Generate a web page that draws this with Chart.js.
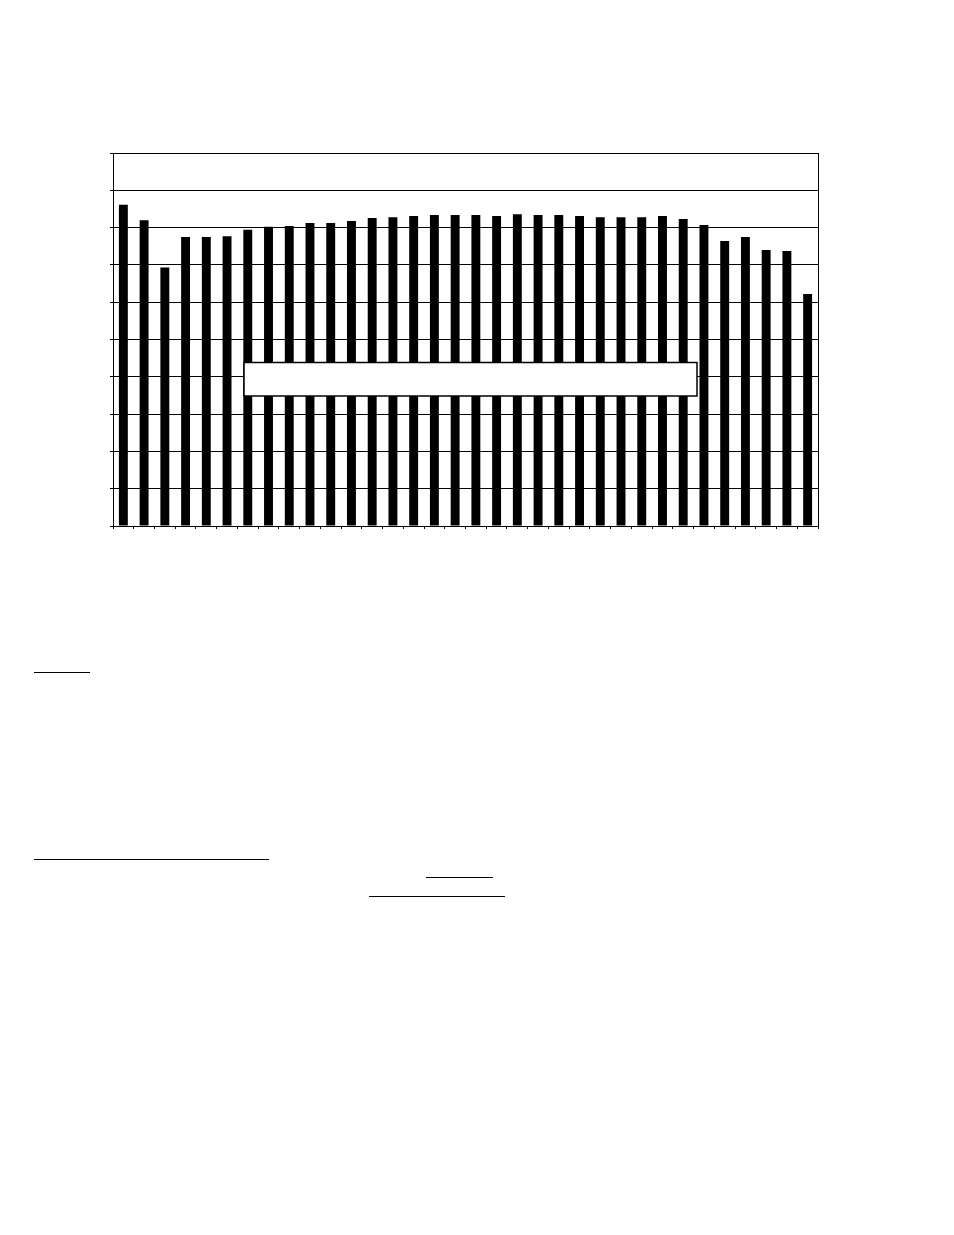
<!DOCTYPE html>
<html>
<head>
<meta charset="utf-8">
<script src="https://cdn.jsdelivr.net/npm/chart.js@4/dist/chart.umd.min.js"></script>
<style>
  html, body { margin: 0; padding: 0; background: #fff; width: 954px; height: 1235px; overflow: hidden; }
  #wrap { position: absolute; left: 0; top: 0; width: 954px; height: 560px; }
  .ul { position: absolute; height: 1px; background: #000; }
</style>
</head>
<body>
<div id="wrap"><canvas id="c"></canvas></div>
<div class="ul" style="left:34px;top:672px;width:56px;"></div>
<div class="ul" style="left:34px;top:859px;width:235px;"></div>
<div class="ul" style="left:426px;top:877px;width:67px;"></div>
<div class="ul" style="left:369px;top:896px;width:136px;"></div>
<script>
const categories = ["1","2","3","4","5","6","7","8","9","10","11","12","13","14","15","16","17","18","19","20","21","22","23","24","25","26","27","28","29","30","31","32","33","34"];
const values = [86.1, 82.0, 69.3, 77.5, 77.5, 77.7, 79.4, 80.2, 80.4, 81.2, 81.2, 81.8, 82.6, 82.8, 83.1, 83.4, 83.4, 83.4, 83.1, 83.6, 83.4, 83.4, 83.1, 82.8, 82.8, 82.8, 83.1, 82.3, 80.7, 76.4, 77.5, 74.0, 73.7, 62.2];
const yTicks = { min: 0, max: 100, step: 10 };

const framePlugin = {
  id: 'frame',
  afterDraw(chart) {
    const ctx = chart.ctx, ca = chart.chartArea;
    ctx.save();
    ctx.strokeStyle = '#000';
    ctx.lineWidth = 1;
    ctx.beginPath();
    ctx.moveTo(Math.round(ca.right) + 0.5, ca.top);
    ctx.lineTo(Math.round(ca.right) + 0.5, ca.bottom);
    ctx.stroke();
    // empty text box
    const x1 = ca.left + 131, x2 = ca.left + 584;
    const y1 = ca.top + 209.5, y2 = ca.top + 243;
    ctx.fillStyle = '#fff';
    ctx.fillRect(x1, y1, x2 - x1, y2 - y1);
    ctx.lineWidth = 1.5;
    ctx.strokeRect(x1, y1, x2 - x1, y2 - y1);
    ctx.restore();
  }
};

new Chart(document.getElementById('c'), {
  type: 'bar',
  data: {
    labels: categories,
    datasets: [{
      data: values,
      backgroundColor: '#000',
      borderWidth: 0,
      barPercentage: 0.43,
      categoryPercentage: 1.0
    }]
  },
  options: {
    responsive: true,
    maintainAspectRatio: false,
    animation: false,
    devicePixelRatio: 1,
    layout: { padding: { left: 113, top: 153, right: 136, bottom: 34 } },
    plugins: { legend: { display: false }, title: { display: false }, tooltip: { enabled: false } },
    scales: {
      x: {
        type: 'category',
        offset: true,
        grid: { display: true, drawOnChartArea: false, drawTicks: true, tickLength: 3, color: '#000', lineWidth: 1, offset: true },
        border: { display: true, color: '#000', width: 1 },
        ticks: { display: false },
        afterFit(s) { s.height = 0; }
      },
      y: {
        min: yTicks.min,
        max: yTicks.max,
        ticks: { display: false, stepSize: yTicks.step },
        grid: { display: true, drawOnChartArea: true, drawTicks: true, tickLength: 3, color: '#000', lineWidth: 1 },
        border: { display: true, color: '#000', width: 1 },
        afterFit(s) { s.width = 0; }
      }
    }
  },
  plugins: [framePlugin]
});
</script>
</body>
</html>
